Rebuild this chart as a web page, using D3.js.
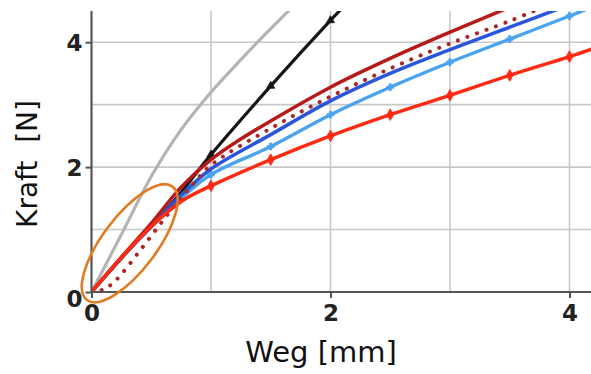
<!DOCTYPE html>
<html>
<head>
<meta charset="utf-8">
<script src="https://cdn.jsdelivr.net/npm/d3@7"></script>
<style>
  html, body { margin: 0; padding: 0; background: #fff; }
  svg { display: block; }
</style>
</head>
<body>
<svg id="chart" width="591" height="374"></svg>
<script>
// Kraft-Weg-Kurven (force vs. displacement)
const gridX = [1, 2, 3, 4];
const gridY = [1, 2, 3, 4];
const tickX = [0, 2, 4];
const tickY = [0, 2, 4];

const wegGrau   = [0, 0.25, 0.5, 0.75, 1.0, 1.25, 1.45, 1.7];
const kraftGrau = [0, 0.92, 1.85, 2.6, 3.2, 3.72, 4.12, 4.6];

const wegSchwarz   = [0, 0.35, 0.7, 1.0, 1.5, 2.0, 2.15];
const kraftSchwarz = [0, 0.75, 1.48, 2.2, 3.3, 4.35, 4.65];

const wegDunkelrot   = [0, 0.25, 0.5, 0.75, 1.0, 1.25, 1.5, 2.0, 2.5, 3.0, 3.5];
const kraftDunkelrot = [0, 0.56, 1.1, 1.68, 2.12, 2.45, 2.74, 3.28, 3.74, 4.16, 4.56];

const wegPunktiert   = [0, 0.1, 0.2, 0.4, 0.6, 0.8, 1.0, 1.5, 2.0, 2.5, 3.0, 3.5, 3.8];
const kraftPunktiert = [0, 0.04, 0.18, 0.65, 1.15, 1.62, 2.03, 2.62, 3.13, 3.58, 3.98, 4.34, 4.58];

const wegBlau   = [0, 0.25, 0.5, 0.75, 1.0, 1.5, 2.0, 2.5, 3.0, 3.5, 4.0];
const kraftBlau = [0, 0.55, 1.05, 1.55, 1.97, 2.52, 3.06, 3.5, 3.88, 4.24, 4.6];

const wegHellblau   = [0, 0.25, 0.5, 0.75, 1.0, 1.5, 2.0, 2.5, 3.0, 3.5, 4.0, 4.2];
const kraftHellblau = [0, 0.55, 1.04, 1.5, 1.88, 2.33, 2.84, 3.28, 3.68, 4.05, 4.42, 4.57];

const wegRot   = [0, 0.25, 0.5, 0.75, 1.0, 1.5, 2.0, 2.5, 3.0, 3.5, 4.0, 4.2];
const kraftRot = [0, 0.55, 1.05, 1.45, 1.7, 2.12, 2.5, 2.84, 3.15, 3.47, 3.77, 3.9];

// highlighted start region (ellipse centre in data units)
const markierungMitte = [0.32, 0.78];

const svg = d3.select("#chart");
const x = d3.scaleLinear().domain([0, 4.18]).range([91.5, 591]);
const y = d3.scaleLinear().domain([0, 4.5]).range([292, 11]);

const zip = (xs, ys) => xs.map((v, i) => [v, ys[i]]);

svg.append("defs").append("clipPath").attr("id", "plotclip")
  .append("rect").attr("x", x(0)).attr("y", y(4.5))
  .attr("width", x(4.18) - x(0)).attr("height", y(0) - y(4.5) + 4);

// grid
svg.append("g").selectAll("line").data(gridX).join("line")
  .attr("x1", d => x(d)).attr("x2", d => x(d))
  .attr("y1", y(0)).attr("y2", y(4.5))
  .attr("stroke", "#c8c8c8").attr("stroke-width", 1.6);
svg.append("g").selectAll("line").data(gridY).join("line")
  .attr("x1", x(0)).attr("x2", x(4.18))
  .attr("y1", d => y(d)).attr("y2", d => y(d))
  .attr("stroke", "#c8c8c8").attr("stroke-width", 1.6);

const line = d3.line().x(d => x(d[0])).y(d => y(d[1])).curve(d3.curveCatmullRom.alpha(0.5));
const plot = svg.append("g").attr("clip-path", "url(#plotclip)");

function serie(xs, ys, color, width, dash) {
  const p = plot.append("path").datum(zip(xs, ys))
    .attr("d", line).attr("fill", "none")
    .attr("stroke", color).attr("stroke-width", width)
    .attr("stroke-linejoin", "round").attr("stroke-linecap", "round");
  if (dash) p.attr("stroke-dasharray", dash);
  return p;
}
function marker(xs, ys, symbol, size, color) {
  const pts = zip(xs, ys).filter(d => d[0] > 0.6 && Math.abs(d[0] * 2 - Math.round(d[0] * 2)) < 1e-9);
  plot.append("g").selectAll("path").data(pts).join("path")
    .attr("transform", d => `translate(${x(d[0])},${y(d[1])})`)
    .attr("d", d3.symbol().type(symbol).size(size))
    .attr("fill", color).attr("stroke", color).attr("stroke-width", 0.8);
}

serie(wegGrau, kraftGrau, "#b4b4b4", 3.2);
serie(wegSchwarz, kraftSchwarz, "#161616", 3.2);
marker(wegSchwarz, kraftSchwarz, d3.symbolTriangle, 28, "#161616");
serie(wegHellblau, kraftHellblau, "#4aa3ee", 3.4);
marker(wegHellblau, kraftHellblau, d3.symbolCross, 26, "#4aa3ee");
serie(wegBlau, kraftBlau, "#2a56dc", 3.5);
serie(wegDunkelrot, kraftDunkelrot, "#b81a1a", 3.5);
serie(wegPunktiert, kraftPunktiert, "#a8282a", 4, "0.1 10");
serie(wegRot, kraftRot, "#ff2a14", 3.5);
marker(wegRot, kraftRot, d3.symbolDiamond, 40, "#ff2a14");

// axes
const axX = svg.append("g").attr("transform", `translate(0,${y(0)})`)
  .call(d3.axisBottom(x).tickValues(tickX).tickSize(6).tickFormat(d3.format("d")));
const axY = svg.append("g").attr("transform", `translate(${x(0)},0)`)
  .call(d3.axisLeft(y).tickValues(tickY).tickSize(6).tickFormat(d3.format("d")));
[axX, axY].forEach(a => {
  a.select(".domain").attr("stroke", "#555").attr("stroke-width", 2.2);
  a.selectAll(".tick line").attr("stroke", "#555").attr("stroke-width", 2);
  a.selectAll(".tick text")
    .attr("font-family", "'DejaVu Sans', sans-serif")
    .attr("font-weight", "bold").attr("font-size", 23).attr("fill", "#222");
});
axX.select(".domain").attr("d", `M${x(0)},0H${x(4.18)}`);
axY.select(".domain").attr("d", `M0,${y(4.5)}V${y(0)}`);
axX.selectAll(".tick text").attr("y", 13).attr("dy", "0.71em");
axY.selectAll(".tick text").attr("x", -9).attr("dy", d => d === 0 ? "0.62em" : "0.36em");

// highlighted start region
svg.append("ellipse")
  .attr("cx", 0).attr("cy", 0).attr("rx", 71).attr("ry", 27)
  .attr("transform", `translate(${x(markierungMitte[0])},${y(markierungMitte[1])}) rotate(-53)`)
  .attr("fill", "none").attr("stroke", "#e07b22").attr("stroke-width", 2.6);

// axis titles
svg.append("text")
  .attr("x", 321).attr("y", 362).attr("text-anchor", "middle")
  .attr("font-family", "'DejaVu Sans', sans-serif").attr("font-size", 29).attr("fill", "#111")
  .text("Weg [mm]");
svg.append("text")
  .attr("transform", "translate(37,164) rotate(-90)").attr("text-anchor", "middle")
  .attr("font-family", "'DejaVu Sans', sans-serif").attr("font-size", 28).attr("fill", "#111")
  .attr("xml:space", "preserve").style("white-space", "pre")
  .text("Kraft  [N]");
</script>
</body>
</html>
